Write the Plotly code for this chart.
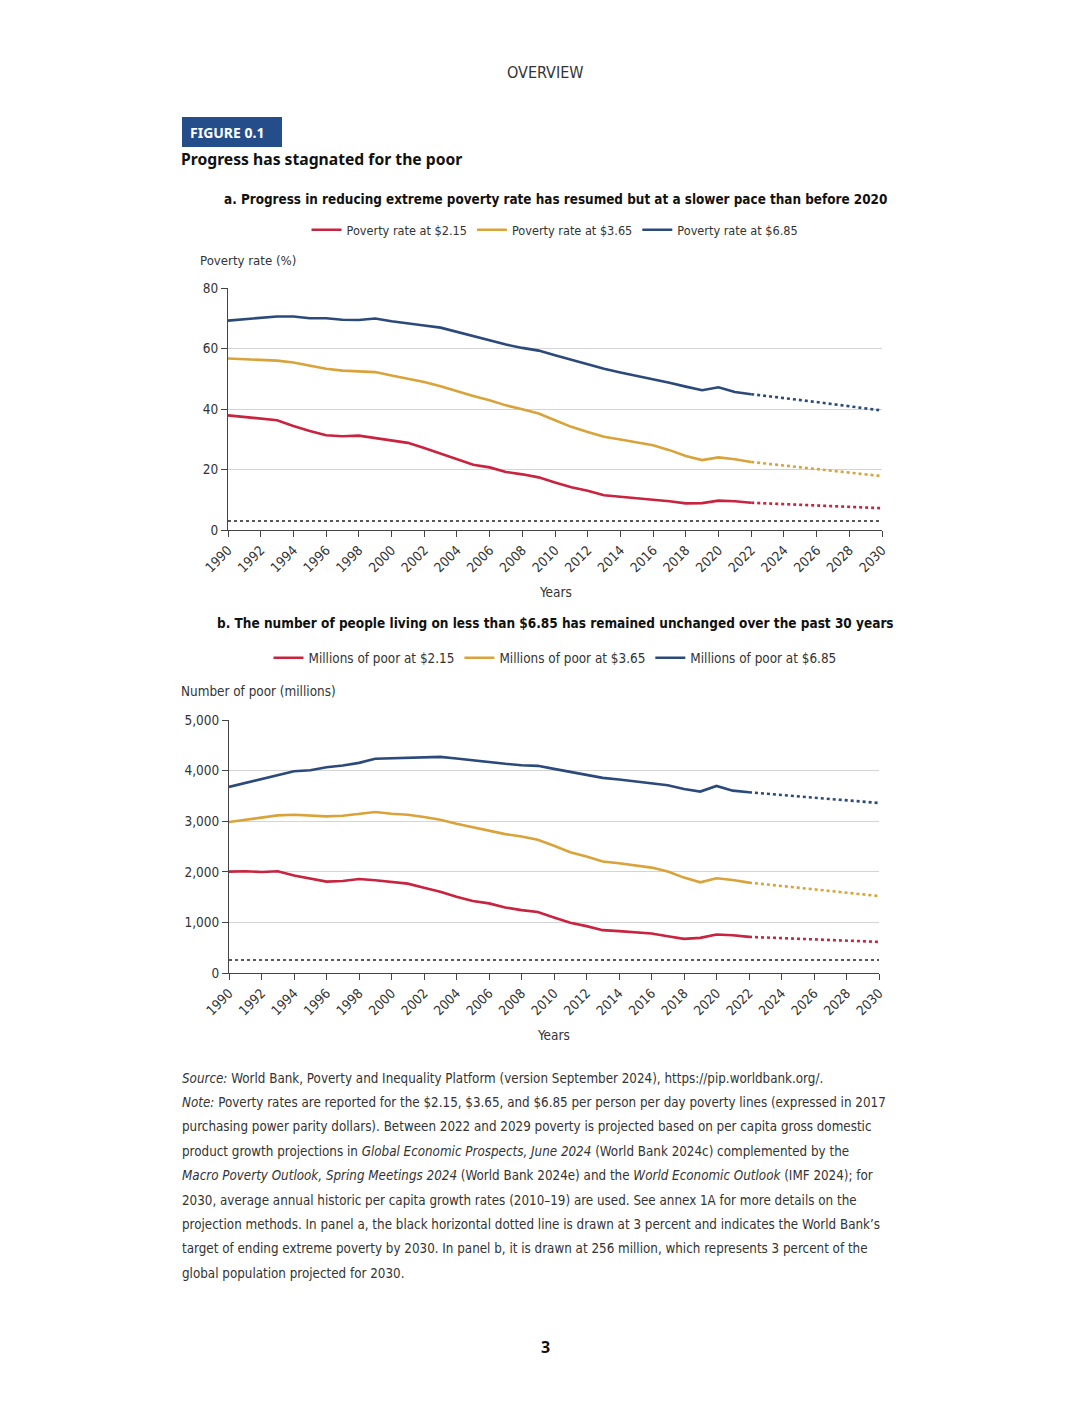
import plotly.graph_objects as go

# page is 1080x1418; the html body adds an 8px margin, so the figure is 16px smaller
OFF = 8
W, H = 1080 - 2 * OFF, 1418 - 2 * OFF

years_hist = list(range(1990, 2023))
years_proj = list(range(2022, 2031))

# Panel a: poverty rates (%)
rate_215 = [37.9, 37.4, 36.8, 36.3, 34.4, 32.7, 31.3, 31.0, 31.2, 30.4, 29.7, 28.8, 27.1, 25.3, 23.4,
            21.6, 20.7, 19.2, 18.4, 17.4, 15.7, 14.1, 13.0, 11.5, 11.0, 10.5, 10.2, 9.5, 8.8, 8.9,
            9.7, 9.5, 9.0]
rate_365 = [56.7, 56.5, 56.3, 56.0, 55.4, 54.4, 53.3, 52.7, 52.5, 52.2, 51.1, 50.0, 48.9, 47.5, 45.8,
            44.3, 42.9, 41.2, 39.9, 38.5, 36.3, 34.1, 32.4, 30.8, 29.9, 28.9, 28.0, 26.4, 24.5, 23.1,
            24.0, 23.4, 22.5]
rate_685 = [69.2, 69.6, 70.0, 70.6, 70.6, 70.0, 70.0, 69.5, 69.4, 69.9, 69.0, 68.4, 67.6, 66.9, 65.5,
            64.1, 62.7, 61.3, 60.2, 59.3, 57.8, 56.3, 54.9, 53.3, 52.1, 51.0, 50.0, 48.7, 47.4, 46.2,
            47.2, 45.6, 44.9]
rate_215_proj = [9.0, 8.8, 8.6, 8.3, 8.1, 7.9, 7.7, 7.4, 7.2]
rate_365_proj = [22.5, 21.9, 21.3, 20.7, 20.1, 19.5, 18.9, 18.4, 17.8]
rate_685_proj = [44.9, 44.3, 43.6, 42.9, 42.3, 41.6, 40.9, 40.2, 39.5]
rate_target = 3

# Panel b: number of poor (millions)
poor_215 = [2004, 2011, 1997, 2011, 1925, 1858, 1806, 1819, 1858, 1832, 1806, 1766, 1687, 1607, 1508,
            1422, 1376, 1296, 1243, 1204, 1098, 992, 926, 847, 827, 800, 780, 728, 675, 694,
            761, 747, 714]
poor_365 = [2983, 3029, 3075, 3115, 3128, 3115, 3095, 3108, 3148, 3181, 3148, 3128, 3082, 3029, 2950,
            2877, 2817, 2745, 2698, 2632, 2513, 2388, 2302, 2202, 2169, 2123, 2083, 2004, 1885, 1792,
            1872, 1839, 1786]
poor_685 = [3677, 3757, 3843, 3922, 3988, 4008, 4067, 4100, 4153, 4233, 4240, 4253, 4259, 4272, 4240,
            4200, 4167, 4134, 4107, 4094, 4034, 3975, 3922, 3856, 3823, 3790, 3757, 3710, 3638, 3585,
            3697, 3604, 3571]
poor_215_proj = [714, 701, 689, 676, 664, 651, 639, 627, 615]
poor_365_proj = [1786, 1753, 1720, 1687, 1654, 1621, 1587, 1554, 1521]
poor_685_proj = [3571, 3545, 3518, 3492, 3466, 3439, 3413, 3386, 3360]
poor_target = 256

names_a = ["Poverty rate at $2.15", "Poverty rate at $3.65", "Poverty rate at $6.85"]
names_b = ["Millions of poor at $2.15", "Millions of poor at $3.65", "Millions of poor at $6.85"]
colors = ["#C8233F", "#D9A33A", "#2B4A7B"]

FONT = "DejaVu Sans Condensed, Liberation Sans Narrow, Roboto, sans-serif"
TXT = "#333333"

fig = go.Figure()

def add_panel(hist, proj, names, target, xa, ya, legend):
    for h, p, n, c in zip(hist, proj, names, colors):
        fig.add_trace(go.Scatter(x=years_hist, y=h, name=n, mode="lines",
                                 line=dict(color=c, width=2.6), xaxis=xa, yaxis=ya,
                                 legend=legend, hoverinfo="skip"))
        fig.add_trace(go.Scatter(x=years_proj, y=p, name=n, mode="lines", showlegend=False,
                                 line=dict(color=c, width=2.6, dash="dot"), xaxis=xa, yaxis=ya,
                                 legend=legend, hoverinfo="skip"))
    fig.add_trace(go.Scatter(x=[1990, 2030], y=[target, target], mode="lines", showlegend=False,
                             line=dict(color="#222222", width=1.6, dash="dot"), xaxis=xa, yaxis=ya,
                             hoverinfo="skip"))

add_panel([rate_215, rate_365, rate_685], [rate_215_proj, rate_365_proj, rate_685_proj],
          names_a, rate_target, "x", "y", "legend")
add_panel([poor_215, poor_365, poor_685], [poor_215_proj, poor_365_proj, poor_685_proj],
          names_b, poor_target, "x2", "y2", "legend2")

def px(x):
    return (x - OFF) / W

def py(y):
    return 1 - (y - OFF) / H

xaxis_common = dict(range=[1990, 2030], tickvals=list(range(1990, 2031, 2)), tickangle=-45,
                    ticks="outside", ticklen=6, tickcolor="#444444", showline=True, linecolor="#444444",
                    linewidth=1.2, showgrid=False, zeroline=False,
                    tickfont=dict(family=FONT, size=13.5, color=TXT))
yaxis_common = dict(ticks="outside", ticklen=6, tickcolor="#444444", showline=True, linecolor="#444444",
                    linewidth=1.2, showgrid=True, gridcolor="#D4D4D4", gridwidth=1, zeroline=False,
                    tickfont=dict(family=FONT, size=13.5, color=TXT))

fig.update_layout(
    width=W, height=H, margin=dict(l=0, r=0, t=0, b=0, autoexpand=False),
    paper_bgcolor="white", plot_bgcolor="white",
    font=dict(family=FONT, color=TXT),
    xaxis=dict(domain=[px(228), px(882)], anchor="y", **xaxis_common),
    yaxis=dict(domain=[py(530), py(288)], range=[0, 80], tickvals=[0, 20, 40, 60, 80], anchor="x",
               **yaxis_common),
    xaxis2=dict(domain=[px(229), px(879)], anchor="y2", **xaxis_common),
    yaxis2=dict(domain=[py(973), py(720)], range=[0, 5000], tickvals=[0, 1000, 2000, 3000, 4000, 5000],
                tickformat=",d", anchor="x2", **yaxis_common),
    legend=dict(orientation="h", x=px(555), y=py(230), xanchor="center", yanchor="middle",
                font=dict(family=FONT, size=12.6, color=TXT), itemwidth=30, tracegroupgap=0,
                bgcolor="rgba(0,0,0,0)"),
    legend2=dict(orientation="h", x=px(555), y=py(658), xanchor="center", yanchor="middle",
                 font=dict(family=FONT, size=13.4, color=TXT), itemwidth=30, tracegroupgap=0,
                 bgcolor="rgba(0,0,0,0)"),
    showlegend=True,
)

# Figure label box
fig.add_shape(type="rect", xref="paper", yref="paper", x0=px(182), x1=px(282), y0=py(147), y1=py(117),
              fillcolor="#234E8A", line=dict(width=0), layer="below")

def ann(text, x, y, size, xanchor="left", bold=False, color=TXT, family=FONT):
    if bold:
        text = "<b>" + text + "</b>"
    fig.add_annotation(text=text, x=px(x), y=py(y), xref="paper", yref="paper", xanchor=xanchor,
                       yanchor="middle", showarrow=False, align="left",
                       font=dict(family=family, size=size, color=color))

ann("OVERVIEW", 545, 72, 16, xanchor="center")
ann("FIGURE 0.1", 188, 133, 14, bold=True, color="white", family="Noto Sans, Open Sans, sans-serif")
ann("Progress has stagnated for the poor", 179, 159, 15.7, bold=True, color="#111111",
    family="Noto Sans, Open Sans, sans-serif")
ann("a. Progress in reducing extreme poverty rate has resumed but at a slower pace than before 2020",
    555, 200, 13.4, xanchor="center", bold=True, color="#111111")
ann("Poverty rate (%)", 198, 260, 13.1)
ann("Years", 555, 592, 13.5, xanchor="center")
ann("b. The number of people living on less than $6.85 has remained unchanged over the past 30 years",
    555, 623, 13.5, xanchor="center", bold=True, color="#111111")
ann("Number of poor (millions)", 179, 691, 13.4)
ann("Years", 553, 1035, 13.5, xanchor="center")

notes = [
    "<i>Source:</i> World Bank, Poverty and Inequality Platform (version September 2024), https://pip.worldbank.org/.",
    "<i>Note:</i> Poverty rates are reported for the $2.15, $3.65, and $6.85 per person per day poverty lines (expressed in 2017",
    "purchasing power parity dollars). Between 2022 and 2029 poverty is projected based on per capita gross domestic",
    "product growth projections in <i>Global Economic Prospects, June 2024</i> (World Bank 2024c) complemented by the",
    "<i>Macro Poverty Outlook, Spring Meetings 2024</i> (World Bank 2024e) and the <i>World Economic Outlook</i> (IMF 2024); for",
    "2030, average annual historic per capita growth rates (2010\u201319) are used. See annex 1A for more details on the",
    "projection methods. In panel a, the black horizontal dotted line is drawn at 3 percent and indicates the World Bank\u2019s",
    "target of ending extreme poverty by 2030. In panel b, it is drawn at 256 million, which represents 3 percent of the",
    "global population projected for 2030.",
]
for i, line in enumerate(notes):
    ann(line, 180, 1078 + i * 24.4, 13.3)

ann("3", 545, 1347, 16, xanchor="center", bold=True, color="#111111", family="Noto Sans, sans-serif")

fig.write_html("out.html")
